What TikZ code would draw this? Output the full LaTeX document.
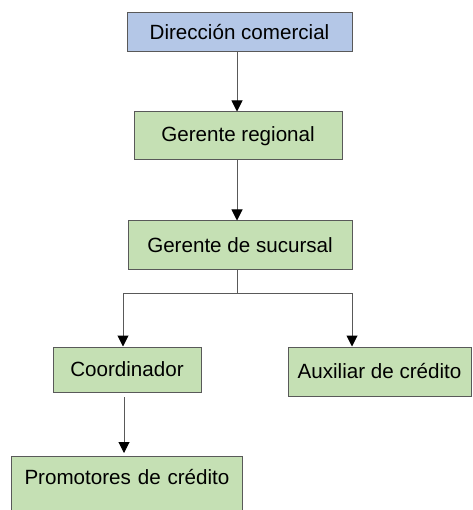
\documentclass[tikz,border=0pt]{standalone}
\usepackage{fontspec}
\setmainfont{Liberation Sans}
\usetikzlibrary{arrows.meta}
\definecolor{bluebox}{HTML}{B4C7E7}
\definecolor{greenbox}{HTML}{C5E0B4}
\definecolor{edgegray}{HTML}{595959}
\begin{document}
\begin{tikzpicture}[x=1pt,y=-1pt,
  box/.style={draw=edgegray, line width=1pt, inner sep=0pt, text=black,
    font=\fontsize{20.6}{24}\selectfont},
  bluenode/.style={box, fill=bluebox},
  greennode/.style={box, fill=greenbox},
  conn/.style={draw=edgegray, line width=1pt},
  arr/.style={conn, -{Triangle[width=11pt,length=11pt,color=black]}}]
\useasboundingbox (0,0) rectangle (472,510);
\fill[white] (0,0) rectangle (472,510);

\node (dc) [bluenode, minimum width=225pt, minimum height=39pt] at (239.5,32.5) {Dirección comercial};
\node (gr) [greennode, minimum width=208pt, minimum height=48pt] at (238,136) {Gerente regional};
\node (gs) [greennode, minimum width=224pt, minimum height=48pt] at (240,245) {Gerente de sucursal};
\node (co) [greennode, minimum width=148pt, minimum height=45pt] at (127,369.5) {Coordinador};
\node (au) [greennode, minimum width=183pt, minimum height=49pt] at (379.5,371.5) {Auxiliar de crédito};
\node (pr) [greennode, anchor=north west, inner xsep=13pt, inner ysep=0pt,
  text width=205pt, align=left, text height=28pt, text depth=40pt] at (11,456) {Promotores de crédito};

\coordinate (a1) at (237,0);
\draw[arr] (dc.south -| a1) -- (gr.north -| a1);
\draw[arr] (gr.south -| a1) -- (gs.north -| a1);

\coordinate (j) at (237,293);
\coordinate (jl) at (123,293);
\coordinate (jr) at (352,293);
\draw[conn] (gs.south -| j) -- (j);
\draw[conn] (jl) -- (jr);
\draw[arr] (jl) -- (jl |- co.north);
\draw[arr] (jr) -- (jr |- au.north);

\coordinate (c1) at (124,0);
\draw[arr, shorten <=4.5pt, shorten >=3pt] (co.south -| c1) -- (pr.north -| c1);
\end{tikzpicture}
\end{document}
